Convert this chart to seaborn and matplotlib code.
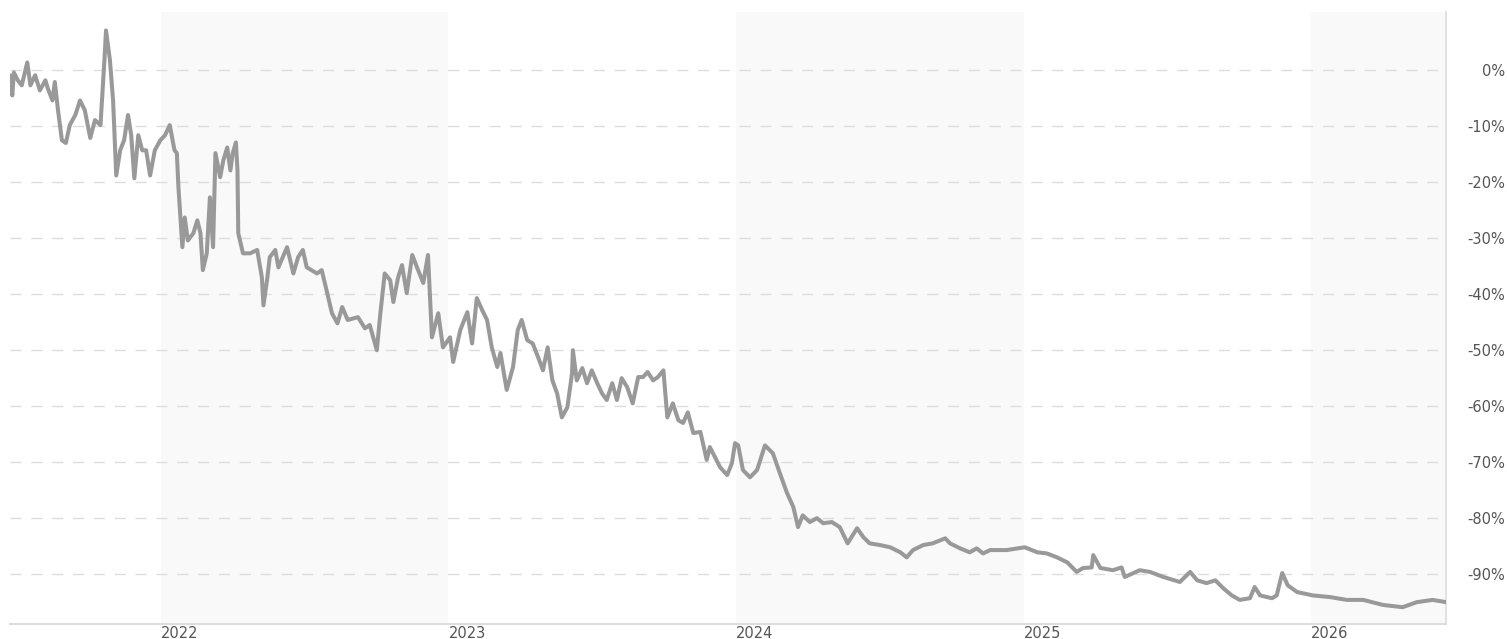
import pandas as pd
import seaborn as sns
import matplotlib.pyplot as plt

# % change since start
dates = [
    "2021-06-23", "2021-06-26", "2021-06-28", "2021-07-03", "2021-07-08", "2021-07-15",
    "2021-07-19", "2021-07-25", "2021-07-31", "2021-08-07", "2021-08-10", "2021-08-16",
    "2021-08-19", "2021-08-23", "2021-08-28", "2021-09-02", "2021-09-07", "2021-09-14",
    "2021-09-20", "2021-09-26", "2021-10-03", "2021-10-09", "2021-10-16", "2021-10-21",
    "2021-10-23", "2021-10-28", "2021-11-01", "2021-11-05", "2021-11-10", "2021-11-15",
    "2021-11-20", "2021-11-24", "2021-11-28", "2021-12-03", "2021-12-08", "2021-12-13",
    "2021-12-18", "2021-12-24", "2021-12-31", "2022-01-06", "2022-01-12", "2022-01-18",
    "2022-01-21", "2022-01-23", "2022-01-28", "2022-01-31", "2022-02-04", "2022-02-11",
    "2022-02-16", "2022-02-20", "2022-02-23", "2022-02-28", "2022-03-04", "2022-03-08",
    "2022-03-11", "2022-03-17", "2022-03-21", "2022-03-26", "2022-03-30", "2022-04-02",
    "2022-04-06", "2022-04-08", "2022-04-09", "2022-04-15", "2022-04-24", "2022-05-03",
    "2022-05-09", "2022-05-11", "2022-05-16", "2022-05-19", "2022-05-26", "2022-05-30",
    "2022-06-10", "2022-06-18", "2022-06-24", "2022-06-30", "2022-07-05", "2022-07-18",
    "2022-07-24", "2022-07-31", "2022-08-06", "2022-08-13", "2022-08-19", "2022-08-26",
    "2022-09-08", "2022-09-17", "2022-09-23", "2022-10-02", "2022-10-06", "2022-10-12",
    "2022-10-19", "2022-10-23", "2022-10-29", "2022-11-03", "2022-11-09", "2022-11-16",
    "2022-11-22", "2022-11-30", "2022-12-06", "2022-12-11", "2022-12-19", "2022-12-25",
    "2023-01-03", "2023-01-07", "2023-01-16", "2023-01-25", "2023-01-31", "2023-02-06",
    "2023-02-13", "2023-02-19", "2023-02-25", "2023-03-04", "2023-03-08", "2023-03-16",
    "2023-03-24", "2023-03-30", "2023-04-04", "2023-04-11", "2023-04-18", "2023-04-25",
    "2023-05-01", "2023-05-07", "2023-05-13", "2023-05-19", "2023-05-25", "2023-06-01",
    "2023-06-07", "2023-06-08", "2023-06-13", "2023-06-20", "2023-06-26", "2023-07-02",
    "2023-07-09", "2023-07-15", "2023-07-21", "2023-07-28", "2023-08-03", "2023-08-09",
    "2023-08-16", "2023-08-23", "2023-08-30", "2023-09-05", "2023-09-11", "2023-09-18",
    "2023-09-24", "2023-10-01", "2023-10-06", "2023-10-13", "2023-10-20", "2023-10-26",
    "2023-11-01", "2023-11-08", "2023-11-17", "2023-11-25", "2023-11-29", "2023-12-12",
    "2023-12-21", "2023-12-27", "2023-12-31", "2024-01-04", "2024-01-10", "2024-01-19",
    "2024-01-28", "2024-02-07", "2024-02-17", "2024-02-26", "2024-03-06", "2024-03-14",
    "2024-03-20", "2024-03-26", "2024-04-04", "2024-04-13", "2024-04-21", "2024-05-02",
    "2024-05-12", "2024-05-22", "2024-06-03", "2024-06-11", "2024-06-19", "2024-07-02",
    "2024-07-15", "2024-07-28", "2024-08-05", "2024-08-13", "2024-08-26", "2024-09-07",
    "2024-09-23", "2024-09-29", "2024-10-12", "2024-10-24", "2024-11-02", "2024-11-10",
    "2024-11-19", "2024-12-10", "2025-01-02", "2025-01-18", "2025-01-30", "2025-02-12",
    "2025-02-25", "2025-03-09", "2025-03-17", "2025-03-28", "2025-03-30", "2025-04-08",
    "2025-04-24", "2025-05-05", "2025-05-09", "2025-05-28", "2025-06-10", "2025-06-27",
    "2025-07-18", "2025-07-31", "2025-08-09", "2025-08-21", "2025-09-01", "2025-09-11",
    "2025-09-22", "2025-10-02", "2025-10-15", "2025-10-21", "2025-10-28", "2025-11-12",
    "2025-11-18", "2025-11-25", "2025-12-02", "2025-12-14", "2026-01-03", "2026-01-25",
    "2026-02-15", "2026-03-08", "2026-03-25", "2026-04-02", "2026-04-27", "2026-05-15",
    "2026-06-04", "2026-06-21",
]
change = [
    -0.9, -4.5, -0.4, -1.8, -2.7, 1.4,
    -2.7, -0.9, -3.6, -1.8, -3.2, -5.4,
    -2.1, -7.1, -12.5, -13.0, -9.8, -8.0,
    -5.4, -7.1, -12.1, -8.9, -9.8, 1.8,
    7.1, 1.8, -5.4, -18.8, -14.3, -12.5,
    -8.0, -11.6, -19.3, -11.6, -14.3, -14.3,
    -18.8, -14.3, -12.5, -11.6, -9.8, -14.3,
    -14.8, -20.9, -31.6, -26.3, -30.4, -29.1,
    -26.8, -29.1, -35.7, -32.7, -22.7, -31.6,
    -14.8, -19.1, -16.1, -13.8, -17.9, -14.8,
    -12.9, -17.9, -29.1, -32.7, -32.7, -32.1,
    -37.0, -42.0, -37.0, -33.4, -32.1, -35.2,
    -31.6, -36.3, -33.4, -32.1, -35.2, -36.3,
    -35.7, -39.8, -43.4, -45.2, -42.3, -44.6,
    -44.1, -46.1, -45.5, -50.0, -44.1, -36.3,
    -37.5, -41.4, -37.0, -34.8, -39.8, -33.0,
    -35.2, -38.0, -33.0, -47.7, -43.4, -49.5,
    -47.7, -52.1, -46.4, -43.2, -48.8, -40.7,
    -42.9, -44.6, -49.5, -53.0, -50.5, -57.1,
    -53.0, -46.4, -44.6, -48.2, -48.8, -51.3,
    -53.6, -49.5, -55.4, -57.7, -62.0, -60.2,
    -54.1, -50.0, -55.4, -53.2, -55.9, -53.6,
    -55.9, -57.7, -58.9, -55.9, -58.9, -55.0,
    -56.6, -59.5, -54.8, -54.8, -53.9, -55.4,
    -54.8, -53.6, -62.0, -59.5, -62.5, -63.0,
    -61.1, -64.8, -64.6, -69.6, -67.3, -70.9,
    -72.3, -70.2, -66.6, -67.0, -71.4, -72.7,
    -71.4, -67.0, -68.4, -72.0, -75.5, -78.0,
    -81.6, -79.5, -80.7, -80.0, -80.9, -80.7,
    -81.6, -84.5, -81.8, -83.4, -84.5, -84.8,
    -85.2, -86.1, -87.0, -85.7, -84.8, -84.5,
    -83.6, -84.5, -85.4, -86.1, -85.4, -86.3,
    -85.7, -85.7, -85.2, -86.1, -86.3, -87.0,
    -87.9, -89.6, -88.9, -88.8, -86.6, -88.9,
    -89.3, -88.8, -90.5, -89.3, -89.6, -90.5,
    -91.4, -89.6, -91.1, -91.6, -91.1, -92.5,
    -93.8, -94.6, -94.3, -92.3, -93.8, -94.3,
    -93.8, -89.8, -92.0, -93.2, -93.8, -94.1,
    -94.6, -94.6, -95.2, -95.5, -95.9, -95.0,
    -94.6, -95.0,
]
shaded_years = [2022, 2024, 2026]
year_ticks = [2022, 2023, 2024, 2025, 2026]
pct_ticks = [0, -10, -20, -30, -40, -50, -60, -70, -80, -90]

df = pd.DataFrame({"date": pd.to_datetime(dates), "change": change})

sns.set_style("white")
plt.rcParams["font.family"] = ["DejaVu Sans"]
fig = plt.figure(figsize=(15.07, 6.39), dpi=100)
ax = fig.add_axes([0.0066, 0.0235, 0.9529, 0.9577])

x_start = pd.Timestamp("2021-06-23")
x_end = pd.Timestamp("2026-06-21")

# alternate year shading
for yr in shaded_years:
    ax.axvspan(pd.Timestamp(f"{yr}-01-01"), min(pd.Timestamp(f"{yr + 1}-01-01"), x_end),
               color="#f9f9f9", zorder=0, lw=0)

for p in pct_ticks:
    ax.axhline(p, color="#dddddd", lw=1, ls=(0, (8, 7)), zorder=1)

sns.lineplot(data=df, x="date", y="change", ax=ax, color="#999999", linewidth=2.9, zorder=3)

ax.set_xlim(x_start, x_end)
ax.set_ylim(-98.9, 10.4)

ax.yaxis.tick_right()
ax.set_yticks(pct_ticks)
ax.set_yticklabels([f"{p}%" for p in pct_ticks])
ax.tick_params(axis="y", length=0, pad=42.5, labelsize=10.5, labelcolor="#555555")
for lab in ax.get_yticklabels():
    lab.set_horizontalalignment("right")

ax.set_xticks([pd.Timestamp(f"{y}-01-01") for y in year_ticks])
ax.set_xticklabels([str(y) for y in year_ticks])
ax.tick_params(axis="x", length=0, pad=1.5, labelsize=10.5, labelcolor="#555555")
for lab in ax.get_xticklabels():
    lab.set_horizontalalignment("left")

ax.set_xlabel("")
ax.set_ylabel("")
for side in ["left", "top"]:
    ax.spines[side].set_visible(False)
ax.spines["bottom"].set_color("#dddddd")
ax.spines["bottom"].set_linewidth(1.5)
ax.spines["right"].set_color("#dddddd")
ax.spines["right"].set_linewidth(1.2)

fig.savefig("out.png", dpi=100)
